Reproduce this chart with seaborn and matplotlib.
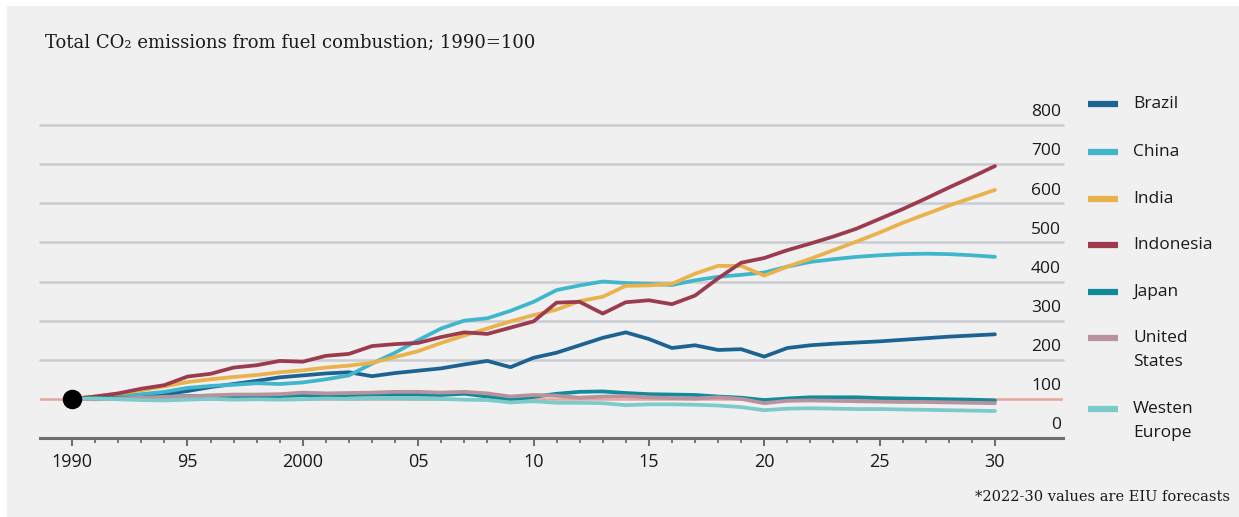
import matplotlib.pyplot as plt
import matplotlib.lines as mlines
import matplotlib.patches as mpatches
import pandas as pd
import seaborn as sns

#values, 1990=100
years = list(range(1990, 2031))
brazil = [100, 102, 104, 108, 112, 120, 130, 138, 146, 155, 160, 165, 168, 158, 166, 172, 178, 188, 197, 181,
          205, 218, 237, 256, 270, 253, 230, 237, 225, 227, 208, 230, 237, 241, 244, 247, 251, 255, 259, 262, 265]
china = [100, 103, 107, 112, 118, 128, 133, 136, 140, 138, 142, 150, 160, 190, 218, 250, 280, 300, 306, 325,
         348, 378, 390, 400, 396, 394, 391, 403, 412, 417, 423, 438, 450, 457, 463, 467, 470, 471, 470, 467, 463]
india = [100, 106, 113, 122, 132, 143, 150, 156, 161, 168, 173, 180, 185, 192, 207, 222, 243, 262, 280, 298,
         314, 328, 350, 361, 389, 390, 394, 420, 440, 440, 415, 438, 458, 480, 502, 525, 550, 572, 594, 614, 634]
indonesia = [100, 106, 114, 126, 135, 157, 164, 180, 186, 197, 195, 210, 215, 235, 240, 243, 258, 270, 266, 282,
             298, 346, 348, 318, 347, 352, 342, 364, 408, 448, 460, 480, 497, 515, 535, 560, 585, 612, 640, 667, 695]
japan = [100, 102, 103, 102, 106, 107, 108, 107, 104, 107, 109, 107, 110, 111, 111, 111, 110, 113, 106, 98,
         105, 113, 118, 119, 115, 112, 111, 110, 106, 103, 97, 101, 104, 104, 104, 102, 101, 100, 99, 98, 96]
united_states = [100, 99, 101, 103, 105, 106, 109, 111, 111, 112, 116, 114, 115, 116, 118, 118, 116, 118, 114, 106,
                 110, 108, 103, 106, 107, 104, 102, 101, 104, 100, 89, 95, 96, 95, 94, 93, 92, 92, 91, 90, 89]
western_europe = [100, 101, 99, 97, 96, 98, 100, 98, 99, 98, 99, 101, 100, 101, 101, 100, 100, 98, 97, 91,
                  94, 90, 90, 89, 84, 86, 86, 85, 83, 79, 71, 75, 76, 75, 74, 74, 73, 72, 71, 70, 69]

countries = ["Brazil", "China", "India", "Indonesia", "Japan", "United States", "Western Europe"]
legend_labels = ["Brazil", "China", "India", "Indonesia", "Japan", "United\nStates", "Westen\nEurope"]
series = [brazil, china, india, indonesia, japan, united_states, western_europe]
colors = ["#1c6393", "#3fb6cc", "#e9b24c", "#9c3b4e", "#118b9a", "#b8929e", "#7ccaca"]

y_ticks = [0, 100, 200, 300, 400, 500, 600, 700, 800]
x_major = [1990, 1995, 2000, 2005, 2010, 2015, 2020, 2025, 2030]
x_labels = ["1990", "95", "2000", "05", "10", "15", "20", "25", "30"]

#long format for seaborn
df = pd.DataFrame({
    "year": years * len(countries),
    "value": sum(series, []),
    "country": [c for c in countries for _ in years],
})

sns.set_theme(style="white")
plt.rcParams['font.family'] = ['Open Sans', 'DejaVu Sans']

W, H = 1239, 517
fig = plt.figure(figsize=(W / 100, H / 100), dpi=100)
fig.patch.set_facecolor("white")
#grey panel with a thin white margin top and left
fig.add_artist(mpatches.Rectangle((7 / W, 0), 1, 1 - 6 / H, transform=fig.transFigure,
                                  facecolor="#f0f0f0", edgecolor="none", zorder=0))

ax = fig.add_axes([40 / W, (H - 438) / H, (1063 - 40) / W, (438 - 125) / H])
ax.set_facecolor("none")

#gridlines and the 1990=100 reference line
for v in y_ticks[2:]:
    ax.axhline(v, color="#c9ccd0", lw=1.8, zorder=1, clip_on=False)
ax.axhline(100, color="#e9a49c", lw=1.8, zorder=1)

sns.lineplot(data=df, x="year", y="value", hue="country", hue_order=countries,
             palette=dict(zip(countries, colors)), linewidth=2.7, legend=False, ax=ax, zorder=3)
ax.scatter([years[0]], [united_states[0]], s=170, color="black", zorder=5)

ax.set_xlim(1988.61, 2032.95)
ax.set_ylim(0, 800)
ax.set_xlabel("")
ax.set_ylabel("")

for s in ["top", "right", "left"]:
    ax.spines[s].set_visible(False)
ax.spines["bottom"].set_color("#6e6e6e")
ax.spines["bottom"].set_linewidth(2.2)

ax.set_xticks(x_major)
ax.set_xticklabels(x_labels, fontsize=13, color="#1a1a1a")
ax.set_xticks(years, minor=True)
ax.tick_params(axis="x", which="major", direction="out", length=6, width=1.5, color="#6e6e6e", pad=5, bottom=True)
ax.tick_params(axis="x", which="minor", direction="out", length=3.5, width=1.3, color="#6e6e6e", bottom=True)
ax.set_yticks([])

#y labels sit above their gridlines at the right end
for v in y_ticks:
    ax.text(1.0 - 2 / (1063 - 40), v + 12, str(v), transform=ax.get_yaxis_transform(),
            ha="right", va="bottom", fontsize=12.5, color="#1a1a1a")

#legend on the right
legend_y = [104, 152, 199, 245, 292, 338, 409]
for lab, col, ly in zip(legend_labels, colors, legend_y):
    fig.add_artist(mlines.Line2D([1088 / W, 1118 / W], [1 - ly / H, 1 - ly / H],
                                 transform=fig.transFigure, color=col, lw=4.5, solid_capstyle="butt"))
    if "\n" in lab:
        fig.text(1133 / W, 1 - (ly + 12) / H, lab, ha="left", va="center", fontsize=12.5,
                 linespacing=1.65, color="#1a1a1a")
    else:
        fig.text(1133 / W, 1 - ly / H, lab, ha="left", va="center", fontsize=12.5, color="#1a1a1a")

fig.text(45 / W, 1 - 43 / H, "Total CO\u2082 emissions from fuel combustion; 1990=100",
         ha="left", va="center", fontsize=13, family=["DejaVu Serif"], color="#1a1a1a")
fig.text(1230 / W, 1 - 497 / H, "*2022-30 values are EIU forecasts",
         ha="right", va="center", fontsize=10.5, family=["DejaVu Serif"], color="#1a1a1a")

fig.savefig("out.png", dpi=100, facecolor=fig.get_facecolor())
